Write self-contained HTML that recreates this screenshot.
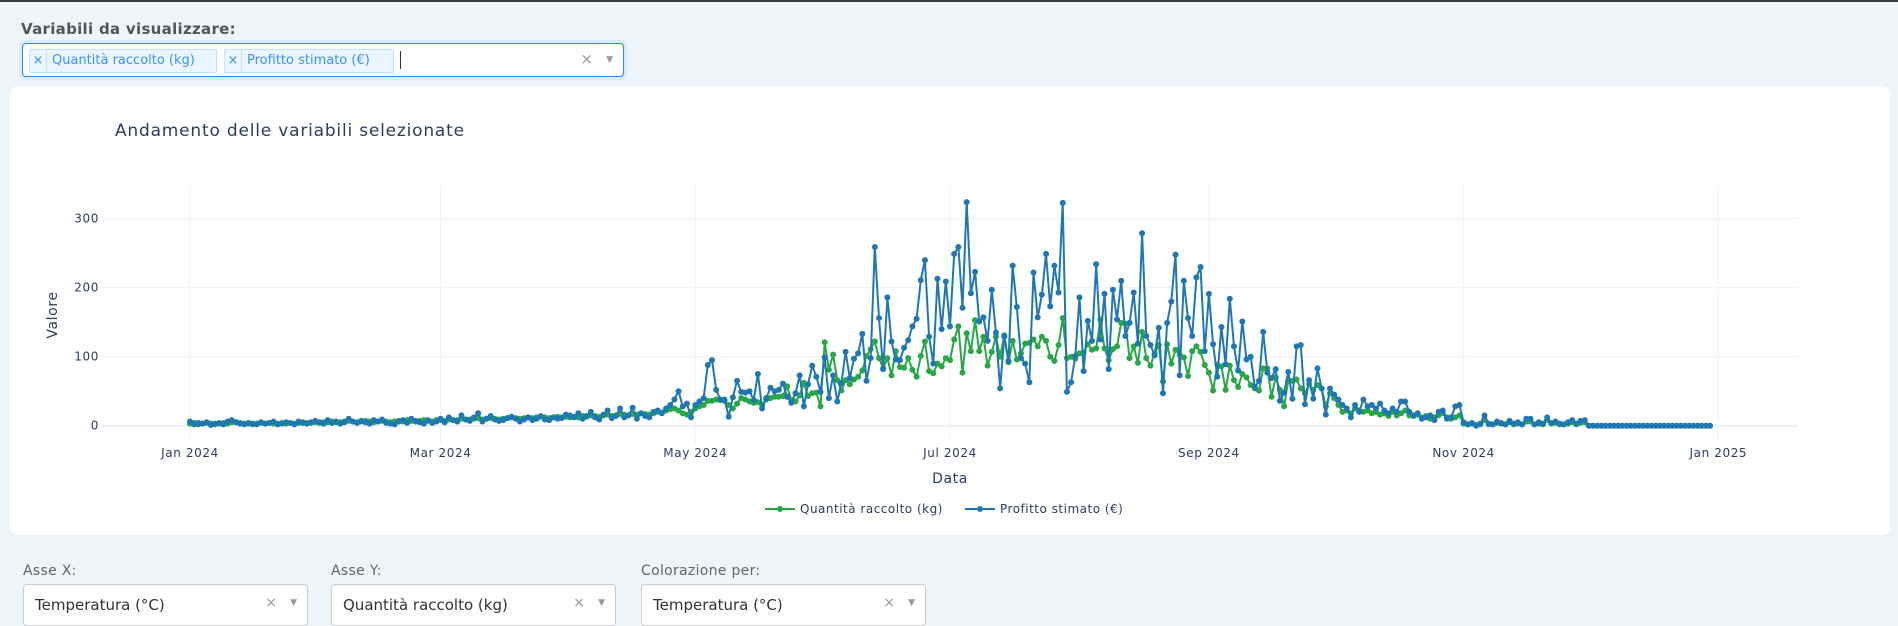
<!DOCTYPE html>
<html><head><meta charset="utf-8"><style>
html,body{margin:0;padding:0;width:1898px;height:617px;overflow:hidden;background:#eef5f8;font-family:"DejaVu Sans","Liberation Sans",sans-serif;}
.topbar{position:absolute;left:0;top:0;width:1898px;height:2px;background:#3a3a3a;}
.lbl{position:absolute;font-size:15px;color:#555;letter-spacing:0.3px;}
.multi{position:absolute;left:22px;top:43px;width:600px;height:32px;background:#fff;border:1px solid #2a8cf0;border-radius:4px;box-shadow:0 0 0 3px #d8ebfb;}
.chip{position:absolute;top:5px;height:22px;background:#ebf5ff;border:1px solid #c2e0ff;border-radius:2px;color:#3a93f0;font-size:13px;line-height:22px;white-space:nowrap;overflow:hidden;}
.chip .x{display:inline-block;width:16px;text-align:center;border-right:1px solid #c2e0ff;}
.chip .t{padding:0 4px 0 5px;}
.card{position:absolute;left:10px;top:86px;width:1880px;height:449px;background:#fff;border-radius:8px;}
.dd{position:absolute;top:584px;width:283px;height:40px;background:#fff;border:1px solid #ccc;border-radius:4px;font-size:15px;color:#333;white-space:nowrap;}
.dd span.v{position:absolute;left:11px;top:11px;}
.dd span.c{position:absolute;right:30px;top:10px;color:#999;font-size:14px;}
.dd span.a{position:absolute;right:10px;top:13px;color:#999;font-size:9px;}
svg text{font-family:"DejaVu Sans","Liberation Sans",sans-serif;}
</style></head><body>
<div class="topbar"></div>
<div class="lbl" style="left:21px;top:20px;font-weight:bold;">Variabili da visualizzare:</div>
<div class="multi">
  <div class="chip" style="left:6px;width:186px;"><span class="x">×</span><span class="t">Quantità raccolto (kg)</span></div>
  <div class="chip" style="left:201px;width:168px;"><span class="x">×</span><span class="t">Profitto stimato (€)</span></div>
  <div style="position:absolute;left:377px;top:7px;width:1px;height:18px;background:#333;"></div>
  <span style="position:absolute;right:30px;top:6px;color:#999;font-size:15px;">×</span>
  <span style="position:absolute;right:10px;top:11px;color:#999;font-size:9px;">▼</span>
</div>
<div class="card"></div>
<svg id="chart" width="1898" height="617" style="position:absolute;left:0;top:0"></svg>
<div class="lbl" style="left:23px;top:563px;color:#666;font-size:14px;">Asse X:</div>
<div class="lbl" style="left:331px;top:563px;color:#666;font-size:14px;">Asse Y:</div>
<div class="lbl" style="left:641px;top:563px;color:#666;font-size:14px;">Colorazione per:</div>
<div class="dd" style="left:23px;"><span class="v">Temperatura (°C)</span><span class="c">×</span><span class="a">▼</span></div>
<div class="dd" style="left:331px;"><span class="v">Quantità raccolto (kg)</span><span class="c">×</span><span class="a">▼</span></div>
<div class="dd" style="left:641px;"><span class="v">Temperatura (°C)</span><span class="c">×</span><span class="a">▼</span></div>
<script>
const yTicks=[0,100,200,300];
const xTickLabels=["Jan 2024","Mar 2024","May 2024","Jul 2024","Sep 2024","Nov 2024","Jan 2025"];
const xTickDays=[0,60,121,182,244,305,366];
const profitJanMay=[6,2,4,3,5,1,3,4,2,6,8,5,3,2,4,3,2,5,3,4,6,2,3,5,4,2,6,4,3,5,7,
5,3,8,4,6,3,5,10,6,4,7,5,3,8,6,9,4,3,2,6,8,4,10,7,5,3,8,4,6,
10,5,12,8,6,15,9,7,12,18,6,10,14,9,7,8,11,13,10,6,9,12,8,10,14,9,8,12,10,11,16,
15,12,18,10,14,20,12,9,16,22,11,14,25,12,15,26,10,18,14,12,20,22,18,25,30,38,50,28,32,12,
30,35,40,88,95,52,38,38,13,41,65,49,48,50,37,75,25,40,55,50];
const profitJunJul=[52,61,42,33,47,73,28,60,87,71,49,99,40,73,35,62,107,69,97,105,133,65,98,259,156,82,186,122,96,95,113,124,144,155,211,240,129,90,213,140,209,144,249,259,171,324,192,223,151,157,123,197,135,54,129,94,232,172,98,90,63,222,157,190,249,173,232,193];
const profitAugSep=[323,49,63,101,186,79,152,123,234,125,191,82,197,154,210,130,149,193,119,279,130,117,102,142,47,149,180,248,73,210,156,130,215,230,108,191,118,71,143,89,184,115,80,151,96,100,56,65,136,77,69,82,36,48,78,39,115,117,31,66,39,83,54,16,54];
const profitOctDec=[45,38,30,25,12,30,20,38,28,30,25,32,22,18,25,20,35,35,20,15,18,10,12,15,8,20,22,10,12,28,30,
5,2,4,0,3,15,3,2,6,4,2,7,3,5,2,10,10,2,5,3,12,4,6,3,2,5,8,3,7,8,
0,0,0,0,0,0,0,0,0,0,0,0,0,0,0,0,0,0,0,0,0,0,0,0,0,0,0,0,0,0];
const qtyJanMay=[3,4,2,3,4,3,2,3,4,3,5,5,4,3,3,2,3,4,3,4,3,3,4,3,4,3,4,5,4,4,5,
4,5,5,6,5,5,6,7,6,5,6,7,6,5,6,7,6,5,6,7,6,8,7,6,7,8,7,6,8,
8,7,9,8,8,10,9,9,10,11,9,10,11,10,9,10,11,12,11,10,11,12,11,12,13,12,11,12,13,12,13,
12,13,12,14,13,15,14,13,15,16,14,15,17,16,15,17,16,18,17,16,18,20,19,22,24,25,22,18,16,20,
25,28,30,36,36,38,37,36,30,25,32,40,38,35,33,34,30,38,40,42];
const qtyJunJul=[42,43,57,37,35,44,62,43,47,48,28,121,81,103,66,51,66,60,67,71,80,101,111,122,98,83,98,73,108,85,84,98,81,71,101,122,79,76,90,86,98,95,125,144,77,134,108,153,108,129,87,107,129,100,131,92,123,96,105,119,120,125,115,129,123,100,94,117];
const qtyAugSep=[156,98,100,97,105,106,118,110,112,154,112,95,111,115,149,148,98,115,91,136,98,87,105,117,64,118,90,110,103,99,72,108,115,107,88,77,51,88,86,52,87,66,56,75,70,59,54,51,83,83,42,70,52,28,65,65,67,54,47,60,52,59,54,28,47];
const qtyOctDec=[40,30,20,22,18,25,22,20,22,18,20,16,18,14,20,15,18,22,15,14,16,12,14,10,12,15,18,12,10,12,15,
3,2,3,1,2,8,2,2,4,3,2,5,2,3,2,6,6,2,3,2,8,3,4,2,2,3,5,2,4,5,
0,0,0,0,0,0,0,0,0,0,0,0,0,0,0,0,0,0,0,0,0,0,0,0,0,0,0,0,0,0];
const profit=profitJanMay.concat(profitJunJul,profitAugSep,profitOctDec);
const qty=qtyJanMay.concat(qtyJunJul,qtyAugSep,qtyOctDec);

const NS="http://www.w3.org/2000/svg";
const svg=document.getElementById('chart');
const L=102,R=1798,T=186,B=443;
const xS=d=>190+d*(950-190)/182;
const yS=v=>425.7-v*0.69;
function mk(tag,attrs,parent){const e=document.createElementNS(NS,tag);for(const k in attrs)e.setAttribute(k,attrs[k]);(parent||svg).appendChild(e);return e;}

const title=mk('text',{x:115,y:136,'font-size':17,fill:'#2a3f5f','letter-spacing':'0.8'});
title.textContent='Andamento delle variabili selezionate';



xTickDays.forEach((d,i)=>{
  const g=mk('line',{x1:xS(d),x2:xS(d),y1:T,y2:B,stroke:'#ebf0f8','stroke-width':1});
  
  
  const t=mk('text',{x:xS(d),y:457,'font-size':12,fill:'#2a3f5f','text-anchor':'middle','letter-spacing':'0.6'});
  t.textContent=xTickLabels[i];
  
  
});
yTicks.forEach(v=>{
  const g=mk('line',{x1:L,x2:R,y1:yS(v),y2:yS(v),stroke:'#ebf0f8','stroke-width':v===0?2:1});
  
  
  const t=mk('text',{x:99,y:yS(v)+4,'font-size':12,fill:'#2a3f5f','text-anchor':'end','letter-spacing':'0.6'});
  t.textContent=v;
  
  
});
const yt=mk('text',{x:0,y:0,'font-size':14,fill:'#2a3f5f','text-anchor':'middle',transform:'translate(57,315) rotate(-90)','letter-spacing':'0.6'});
yt.textContent='Valore';


const xt=mk('text',{x:950,y:483,'font-size':14,fill:'#2a3f5f','text-anchor':'middle','letter-spacing':'0.6'});
xt.textContent='Data';



function series(vals,color,name){
  const g=mk('g',{});
  
  
  const pts=vals.map((v,i)=>xS(i).toFixed(1)+','+yS(v).toFixed(1)).join(' ');
  const pl=mk('polyline',{points:pts,fill:'none',stroke:color,'stroke-width':2,'stroke-linejoin':'round'},g);
  
  
  vals.forEach((v,i)=>{
    const c=mk('circle',{cx:xS(i),cy:yS(v),r:3,fill:color},g);
    
    
  });
}
series(qty,'#28a745','series-quantita');
series(profit,'#1f77b4','series-profitto');

function legend(x,color,label,name){
  const g=mk('g',{});
  
  
  mk('line',{x1:x,x2:x+30,y1:509,y2:509,stroke:color,'stroke-width':2},g);
  mk('circle',{cx:x+15,cy:509,r:3,fill:color},g);
  const t=mk('text',{x:x+35,y:513,'font-size':12,fill:'#2a3f5f','letter-spacing':'0.5'},g);
  t.textContent=label;
}
legend(765,'#28a745','Quantità raccolto (kg)','legend-quantita');
legend(965,'#1f77b4','Profitto stimato (€)','legend-profitto');
</script>
</body></html>
